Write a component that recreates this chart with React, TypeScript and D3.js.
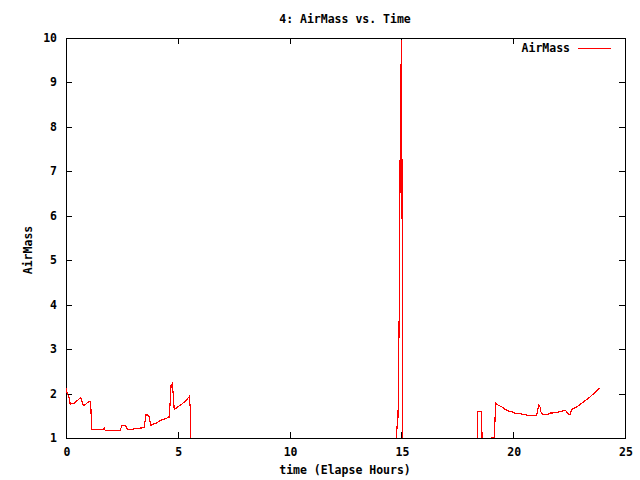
import React, { useEffect, useRef } from 'react';
import * as d3 from 'd3';

// elapsed hours and airmass; 0 marks points below the horizon (clipped)
const hours = [
  0.0, 0.06, 0.12, 0.19, 0.25, 0.33, 0.55, 0.66, 0.70, 0.77, 0.88, 1.04, 1.10, 1.15,
  1.67, 1.71, 1.76, 2.41, 2.50, 2.63, 2.67, 2.74, 2.98, 3.23, 3.49, 3.58, 3.64, 3.71,
  3.80, 3.90, 4.06, 4.20, 4.43, 4.61, 4.65, 4.70, 4.75, 4.79, 4.84, 4.95, 5.17, 5.32,
  5.51, 5.56, 5.62,
  14.78, 14.80, 14.85, 14.90, 14.95, 15.00, 15.02, 15.05, 15.07,
  18.37, 18.41, 18.47, 18.57, 18.61, 18.64,
  19.00, 19.02, 19.08, 19.15, 19.22, 19.33, 19.49, 19.63, 19.78, 19.93, 20.08, 20.38,
  20.68, 21.05, 21.10, 21.14, 21.20, 21.24, 21.32, 21.53, 21.65, 21.90, 22.09, 22.32,
  22.39, 22.50, 22.54, 22.63, 22.76, 22.96, 23.13, 23.36, 23.58, 23.73, 23.85,
];
const airmass = [
  2.12, 1.99, 1.95, 1.76, 1.77, 1.77, 1.86, 1.91, 1.86, 1.73, 1.76, 1.83, 1.83, 1.20,
  1.20, 1.23, 1.16, 1.16, 1.28, 1.29, 1.27, 1.20, 1.20, 1.22, 1.23, 1.52, 1.53, 1.48,
  1.29, 1.31, 1.34, 1.39, 1.43, 1.47, 1.74, 2.19, 2.22, 2.01, 1.65, 1.68, 1.76, 1.82,
  1.93, 1.67, 0,
  0, 1.23, 1.48, 3.75, 7.85, 9.95, 7.7, 3.25, 0,
  0, 1.59, 1.59, 1.59, 1.0, 0,
  0, 1.01, 1.02, 1.02, 1.78, 1.74, 1.70, 1.65, 1.61, 1.59, 1.56, 1.54,
  1.51, 1.51, 1.65, 1.74, 1.70, 1.59, 1.52, 1.52, 1.56, 1.57, 1.59, 1.63,
  1.59, 1.53, 1.53, 1.65, 1.68, 1.74, 1.81, 1.89, 1.99, 2.06, 2.12,
];
const xTicks = [0, 5, 10, 15, 20, 25];
const yTicks = [1, 2, 3, 4, 5, 6, 7, 8, 9, 10];

export default function App() {
  const ref = useRef<SVGSVGElement>(null);

  useEffect(() => {
    const svg = d3.select(ref.current);
    svg.selectAll('*').remove();

    const font = "'DejaVu Sans Mono', monospace";
    const left = 66, right = 625, top = 38, bottom = 438;
    const tick = 6;

    const x = d3.scaleLinear().domain([0, 25]).range([left, right]);
    const y = d3.scaleLinear().domain([1, 10]).range([bottom, top]);

    svg.append('rect').attr('width', 640).attr('height', 480).attr('fill', 'white');

    svg.append('clipPath').attr('id', 'plotclip')
      .append('rect')
      .attr('x', left).attr('y', top)
      .attr('width', right - left).attr('height', bottom - top);

    const axes = svg.append('g')
      .attr('stroke', 'black').attr('stroke-width', 1)
      .attr('shape-rendering', 'crispEdges');

    // ticks, inward on all four sides
    xTicks.forEach(t => {
      if (t === 0 || t === 25) return;
      axes.append('line').attr('x1', x(t) + 0.5).attr('x2', x(t) + 0.5)
        .attr('y1', bottom).attr('y2', bottom - tick);
      axes.append('line').attr('x1', x(t) + 0.5).attr('x2', x(t) + 0.5)
        .attr('y1', top).attr('y2', top + tick);
    });
    yTicks.forEach(t => {
      if (t === 1 || t === 10) return;
      axes.append('line').attr('x1', left).attr('x2', left + tick)
        .attr('y1', y(t) + 0.5).attr('y2', y(t) + 0.5);
      axes.append('line').attr('x1', right).attr('x2', right - tick)
        .attr('y1', y(t) + 0.5).attr('y2', y(t) + 0.5);
    });

    // data line
    const pts = hours.map((h, i) => [h, airmass[i]] as [number, number]);
    const line = d3.line<[number, number]>()
      .x(d => x(d[0]))
      .y(d => y(d[1]));
    svg.append('path')
      .datum(pts)
      .attr('clip-path', 'url(#plotclip)')
      .attr('fill', 'none')
      .attr('stroke', 'red')
      .attr('stroke-width', 1.2)
      .attr('shape-rendering', 'crispEdges')
      .attr('d', line);

    // border
    axes.append('rect')
      .attr('x', left + 0.5).attr('y', top + 0.5)
      .attr('width', right - left).attr('height', bottom - top)
      .attr('fill', 'none');

    const text = svg.append('g')
      .attr('font-family', font).attr('font-size', 11.5)
      .attr('font-weight', 'bold').attr('fill', 'black');

    xTicks.forEach(t => {
      text.append('text').attr('x', x(t) + 1).attr('y', 456)
        .attr('text-anchor', 'middle').text(t);
    });
    yTicks.forEach(t => {
      text.append('text').attr('x', 57).attr('y', y(t) + 4)
        .attr('text-anchor', 'end').text(t);
    });

    text.append('text').attr('x', 345).attr('y', 23)
      .attr('text-anchor', 'middle').text('4: AirMass vs. Time');
    text.append('text').attr('x', 345).attr('y', 474)
      .attr('text-anchor', 'middle').text('time (Elapse Hours)');
    text.append('text')
      .attr('transform', 'translate(32,250) rotate(-90)')
      .attr('text-anchor', 'middle').text('AirMass');

    // legend
    text.append('text').attr('x', 570).attr('y', 52)
      .attr('text-anchor', 'end').text('AirMass');
    svg.append('line')
      .attr('x1', 578).attr('x2', 611)
      .attr('y1', 48.5).attr('y2', 48.5)
      .attr('stroke', 'red').attr('stroke-width', 1)
      .attr('shape-rendering', 'crispEdges');
  }, []);

  return (
    <svg ref={ref} width={640} height={480}
      style={{ position: 'absolute', left: 0, top: 0 }} />
  );
}
